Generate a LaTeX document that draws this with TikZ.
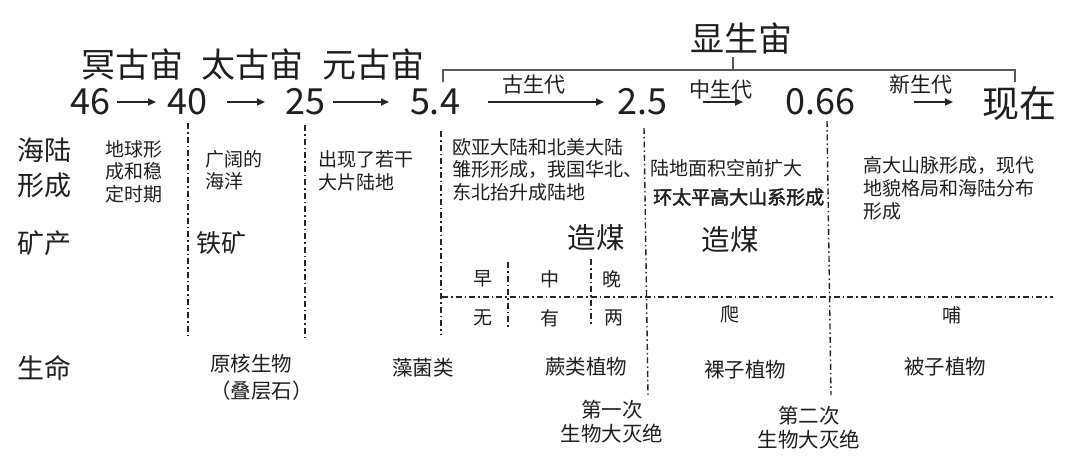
\documentclass[tikz,border=0pt]{standalone}
\usepackage{fontspec}
\setmainfont{Noto Sans CJK SC}
\newfontfamily\boldcjk{Noto Sans CJK SC}[FakeBold=2]
\usetikzlibrary{arrows.meta}
\begin{document}
\begin{tikzpicture}[x=1pt,y=-1pt,
  txt/.style={inner sep=0pt, text=black!88},
  num/.style={txt, font=\fontsize{36}{40}\selectfont},
  eon/.style={txt, font=\fontsize{34}{38}\selectfont},
  rowlab/.style={txt, anchor=west, align=left, font=\fontsize{27}{35}\selectfont},
  desc/.style={txt, anchor=west, align=left, font=\fontsize{19}{22.5}\selectfont},
  eralab/.style={txt, font=\fontsize{21}{24}\selectfont},
  mine/.style={txt, font=\fontsize{28.5}{30}\selectfont},
  cell/.style={txt, font=\fontsize{19}{22}\selectfont},
  life/.style={txt, align=center, font=\fontsize{20.5}{24}\selectfont},
  arr/.style={line width=1.6pt, draw=black!85, -{Triangle[length=8pt,width=7pt]}},
  brk/.style={line width=2pt, draw=black!65},
  sepline/.style={line width=1.4pt, draw=black!85, dash pattern=on 6pt off 3pt on 1.5pt off 3pt},
]
\useasboundingbox (0,0) rectangle (1080,460);

% eons
\node[eon] (e1) at (132.5,64) {冥古宙};
\node[eon] (e2) at (252,64) {太古宙};
\node[eon] (e3) at (373.5,64) {元古宙};
\node[eon] (e4) at (741,38) {显生宙};

% bracket of the Phanerozoic
\draw[brk] (443,82) -- (443,70) -- (1015,70) -- (1015,82);
\draw[brk] (733,57) -- (733,70);

% time numbers
\node[num] (n46) at (90,102) {46};
\node[num] (n40) at (187.5,102) {40};
\node[num] (n25) at (305,102) {25};
\node[num] (n54) at (435,102) {5.4};
\node[num] (n25b) at (642,102) {2.5};
\node[num] (n066) at (820,102) {0.66};
\node[num, font=\fontsize{37}{40}\selectfont] (now) at (1019,103) {现在};

% arrows
\coordinate (a1s) at (117,102); \coordinate (a1e) at (156,102);
\coordinate (a2s) at (227,102); \coordinate (a2e) at (265,102);
\coordinate (a3s) at (333,102); \coordinate (a3e) at (389,102);
\coordinate (a4s) at (488,102); \coordinate (a4e) at (604,102);
\coordinate (a5s) at (703,102); \coordinate (a5e) at (743,102);
\coordinate (a6s) at (914,102); \coordinate (a6e) at (953,102);
\draw[arr] (a1s) -- (a1e);
\draw[arr] (a2s) -- (a2e);
\draw[arr] (a3s) -- (a3e);
\draw[arr] (a4s) -- (a4e);
\draw[arr] (a5s) -- (a5e);
\draw[arr] (a6s) -- (a6e);

\node[eralab] (g1) at (534,85) {古生代};
\node[eralab] (g2) at (721,90) {中生代};
\node[eralab] (g3) at (921,84) {新生代};

% row labels
\node[rowlab] (r1) at (17,167.5) {海陆\\形成};
\node[rowlab] (r2) at (17,243) {矿产};
\node[rowlab] (r3) at (17,368) {生命};

% separators
\draw[sepline] (188,123) -- (188,339);
\draw[sepline] (305,125) -- (305,340);
\draw[sepline] (441,131) -- (441,334);
\draw[sepline] (644,128) -- (648,395);
\draw[sepline] (827,121) -- (831,395);
\draw[sepline] (508,262) -- (508,328);
\draw[sepline] (591,259) -- (591,326);
\draw[sepline] (442,297) -- (1053,297);

% land and sea
\node[desc] (d1) at (105,171.5) {地球形\\成和稳\\定时期};
\node[desc] (d2) at (205,170) {广阔的\\海洋};
\node[desc] (d3) at (318,171) {出现了若干\\大片陆地};
\node[desc] (d4) at (452,169.5) {欧亚大陆和北美大陆\\雏形形成，我国华北、\\东北抬升成陆地};
\node[desc] (d5) at (650,168) {陆地面积空前扩大};
\node[desc, font=\fontsize{19}{22.5}\boldcjk] (d6) at (653,197) {环太平高大山系形成};
\node[desc, font=\fontsize{19}{23}\selectfont] (d7) at (863,188) {高大山脉形成，现代\\地貌格局和海陆分布\\形成};

% minerals
\node[mine, font=\fontsize{25}{28}\selectfont] (m1) at (221.5,243) {铁矿};
\node[mine] (m2) at (596,237.5) {造煤};
\node[mine] (m3) at (730,240) {造煤};

% sub cells
\node[cell] (c1) at (483,279) {早};
\node[cell] (c2) at (550,279) {中};
\node[cell] (c3) at (612,279) {晚};
\node[cell] (c4) at (483,318) {无};
\node[cell] (c5) at (550,318) {有};
\node[cell] (c6) at (614,318) {两};
\node[cell] (c7) at (730,314) {爬};
\node[cell] (c8) at (952,315) {哺};

% life
\node[life, align=left, anchor=west, font=\fontsize{20.5}{27}\selectfont] (l1) at (210,377.5) {原核生物\\（叠层石）};
\node[life] (l2) at (423,368) {藻菌类};
\node[life] (l3) at (586,366.5) {蕨类植物};
\node[life] (l4) at (745,370) {裸子植物};
\node[life] (l5) at (945,367) {被子植物};
\node[life] (x1) at (612,422) {第一次\\生物大灭绝};
\node[life] (x2) at (809,428) {第二次\\生物大灭绝};
\end{tikzpicture}
\end{document}
